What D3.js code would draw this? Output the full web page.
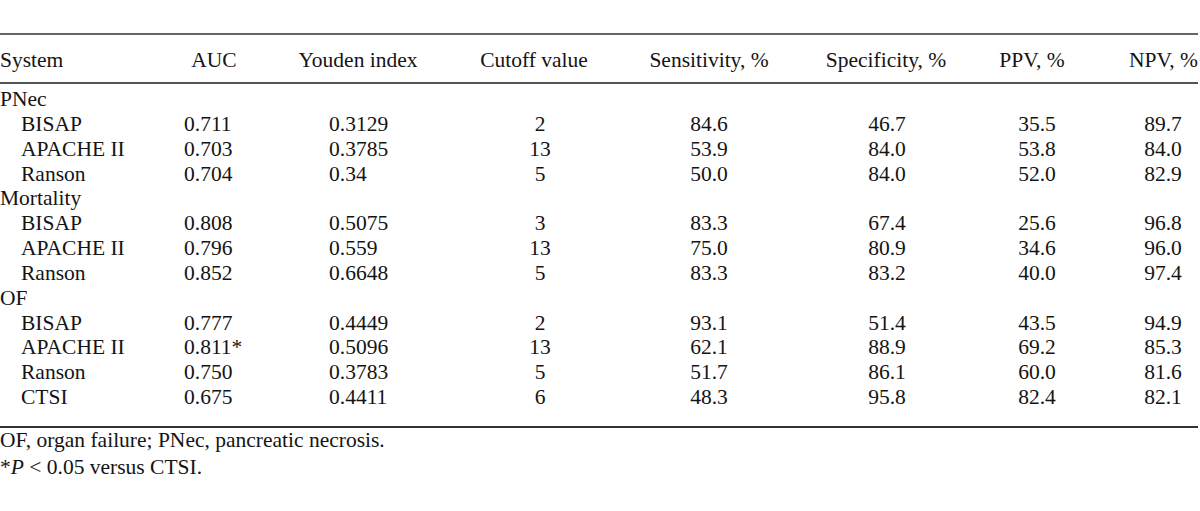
<!DOCTYPE html>
<html>
<head>
<meta charset="utf-8">
<script src="https://cdn.jsdelivr.net/npm/d3@7"></script>
<style>
  body { margin: 0; background: #fff; }
  svg text { font-family: "Liberation Serif", "Times New Roman", serif; font-size: 21.5px; fill: #141414; }
</style>
</head>
<body>
<svg id="canvas" width="1200" height="511"></svg>
<script>
// Table contents
const headers = ["System", "AUC", "Youden index", "Cutoff value", "Sensitivity, %", "Specificity, %", "PPV, %", "NPV, %"];
const groups = ["PNec", "Mortality", "OF"];
const groupSystems = [
    ["BISAP", "APACHE II", "Ranson"],
    ["BISAP", "APACHE II", "Ranson"],
    ["BISAP", "APACHE II", "Ranson", "CTSI"]
];
const auc = [[0.711, 0.703, 0.704], [0.808, 0.796, 0.852], [0.777, 0.811, 0.750, 0.675]];
const aucSignificant = [[false, false, false], [false, false, false], [false, true, false, false]];
const youden = [[0.3129, 0.3785, 0.34], [0.5075, 0.559, 0.6648], [0.4449, 0.5096, 0.3783, 0.4411]];
const cutoff = [[2, 13, 5], [3, 13, 5], [2, 13, 5, 6]];
const sensitivity = [[84.6, 53.9, 50.0], [83.3, 75.0, 83.3], [93.1, 62.1, 51.7, 48.3]];
const specificity = [[46.7, 84.0, 84.0], [67.4, 80.9, 83.2], [51.4, 88.9, 86.1, 95.8]];
const ppv = [[35.5, 53.8, 52.0], [25.6, 34.6, 40.0], [43.5, 69.2, 60.0, 82.4]];
const npv = [[89.7, 84.0, 82.9], [96.8, 96.0, 97.4], [94.9, 85.3, 81.6, 82.1]];
const footnotes = ["OF, organ failure; PNec, pancreatic necrosis."];

// Layout
const svg = d3.select("#canvas");
const headerX = [0, 214, 358, 534, 709, 886, 1032, 1198];
const headerAnchor = ["start", "middle", "middle", "middle", "middle", "middle", "middle", "end"];

// Build flat row list (group rows + system rows)
const rows = [];
groups.forEach((g, gi) => {
    rows.push({ type: "group", label: g });
    groupSystems[gi].forEach((s, si) => {
        rows.push({
            type: "system", label: s,
            auc: auc[gi][si], sig: aucSignificant[gi][si],
            youden: youden[gi][si], cutoff: cutoff[gi][si],
            sens: sensitivity[gi][si], spec: specificity[gi][si],
            ppv: ppv[gi][si], npv: npv[gi][si]
        });
    });
});

const y = d3.scaleLinear().domain([0, rows.length - 1]).range([106, 404]);

// Rules
const rules = [
    { y: 34, w: 1.6, c: "#333" },
    { y: 83, w: 2.2, c: "#555" },
    { y: 427, w: 1.8, c: "#333" }
];
svg.selectAll(".rule")
    .data(rules)
    .enter()
    .append("line")
    .attr("class", "rule")
    .attr("x1", 0)
    .attr("x2", 1198)
    .attr("y1", d => d.y)
    .attr("y2", d => d.y)
    .attr("stroke", d => d.c)
    .attr("stroke-width", d => d.w);

// Header
svg.selectAll(".header")
    .data(headers)
    .enter()
    .append("text")
    .attr("class", "header")
    .attr("x", (d, i) => headerX[i])
    .attr("y", 67)
    .attr("text-anchor", (d, i) => headerAnchor[i])
    .text(d => d);

const f1 = d3.format(".1f");
const f3 = d3.format(".3f");

// Body rows
const rowG = svg.selectAll(".row")
    .data(rows)
    .enter()
    .append("g")
    .attr("class", "row")
    .attr("transform", (d, i) => `translate(0, ${y(i)})`);

rowG.append("text")
    .attr("x", d => d.type === "group" ? 0 : 21)
    .text(d => d.label);

const sys = rowG.filter(d => d.type === "system");

sys.append("text")
    .attr("x", 184)
    .text(d => f3(d.auc) + (d.sig ? "*" : ""));

sys.append("text")
    .attr("x", 329)
    .text(d => String(d.youden));

sys.append("text")
    .attr("x", 540)
    .attr("text-anchor", "middle")
    .text(d => d.cutoff);

const pctCols = [
    { key: "sens", x: 709 },
    { key: "spec", x: 887 },
    { key: "ppv", x: 1037 },
    { key: "npv", x: 1163 }
];
pctCols.forEach(col => {
    sys.append("text")
        .attr("x", col.x)
        .attr("text-anchor", "middle")
        .text(d => f1(d[col.key]));
});

// Footnotes
svg.append("text")
    .attr("x", 0)
    .attr("y", 447)
    .text(footnotes[0]);

const fn2 = svg.append("text")
    .attr("x", 0)
    .attr("y", 474);
fn2.append("tspan").text("*");
fn2.append("tspan").style("font-style", "italic").text("P");
fn2.append("tspan").text(" < 0.05 versus CTSI.");
</script>
</body>
</html>
